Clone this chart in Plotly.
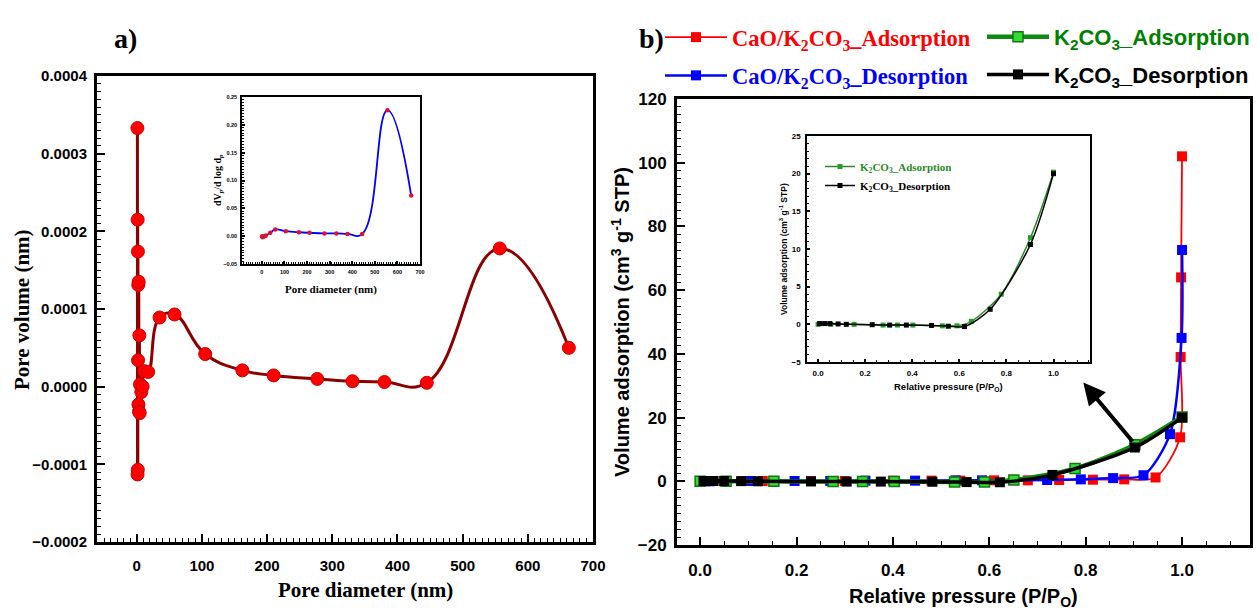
import plotly.graph_objects as go

W, H = 1258, 612

# ---------------- data: panel a (pore size distribution) ----------------
pore_d = [1.0, 1.2, 1.4, 1.6, 1.8, 2.0, 2.3, 2.6, 3.0, 3.5, 4.0, 4.5, 5.0, 7.0, 9.0,
          11.5, 17.5, 35.0, 58.0, 105.0, 162.0, 210.0, 277.0, 331.0, 380.0, 445.0, 557.0, 663.0]
pore_v = [3.33e-4, -1.13e-4, 2.15e-4, -1.07e-4, 1.74e-4, 0.34e-4, 1.31e-4, -0.23e-4, 1.35e-4,
          -0.32e-4, 0.66e-4, -0.34e-4, 0.03e-4, -0.07e-4, 0.0, 0.20e-4, 0.19e-4, 0.89e-4,
          0.93e-4, 0.42e-4, 0.21e-4, 0.145e-4, 0.10e-4, 0.07e-4, 0.06e-4, 0.05e-4, 1.78e-4, 0.50e-4]

# inset a: dVp/dlog dp
inset_d = [1, 3, 6, 12, 18, 37, 59, 106, 164, 211, 277, 330, 379, 444, 556, 661]
inset_v = [0.0, -0.002, -0.001, 0.0, 0.001, 0.006, 0.012, 0.009, 0.007, 0.006, 0.005,
           0.005, 0.004, 0.004, 0.226, 0.073]

# ---------------- data: panel b (isotherms) ----------------
cak_ads_p = [0.01, 0.05, 0.09, 0.13, 0.23, 0.30, 0.40, 0.48, 0.54, 0.61, 0.68, 0.745, 0.815,
             0.88, 0.945, 0.996, 0.997, 0.998, 1.0]
cak_ads_v = [0.0, 0.0, 0.1, 0.1, 0.1, 0.1, 0.2, 0.2, 0.2, 0.3, 0.3, 0.4, 0.5, 0.6, 1.2,
             13.8, 39.0, 64.0, 102.0]

cak_des_p = [1.0, 0.999, 0.975, 0.92, 0.857, 0.79, 0.72, 0.585, 0.53, 0.446, 0.343, 0.27,
             0.196, 0.106, 0.02]
cak_des_v = [72.6, 45.0, 14.8, 1.9, 1.0, 0.6, 0.4, 0.3, 0.3, 0.2, 0.2, 0.1, 0.1, 0.1, 0.0]

k_ads_p = [0.0, 0.054, 0.153, 0.276, 0.337, 0.403, 0.528, 0.59, 0.651, 0.778, 0.902, 1.0]
k_ads_v = [0.0, 0.0, 0.0, -0.1, -0.1, -0.1, -0.2, -0.2, 0.4, 4.0, 11.5, 20.2]

k_des_p = [1.0, 0.902, 0.731, 0.622, 0.553, 0.482, 0.375, 0.304, 0.23, 0.12, 0.085, 0.05,
           0.028, 0.007]
k_des_v = [20.0, 10.6, 2.0, -0.3, -0.25, -0.15, -0.1, -0.1, -0.05, 0.0, 0.05, 0.1, 0.1, 0.1]

SERIF = "Liberation Serif"
SANS = "Liberation Sans"
NARROW = "Liberation Sans Narrow, Arial Narrow, Liberation Sans"


def px(x):
    return x / W


def py(y):
    return 1 - y / H


fig = go.Figure()

# panel a
fig.add_trace(go.Scatter(x=pore_d, y=pore_v, mode="lines+markers", xaxis="x", yaxis="y",
                         line=dict(color="#8b0000", width=3, shape="spline", smoothing=1.3),
                         marker=dict(symbol="circle", size=13, color="#ff0000",
                                     line=dict(color="#cc0000", width=1)),
                         showlegend=False))
# inset a
fig.add_trace(go.Scatter(x=inset_d, y=inset_v, mode="lines+markers", xaxis="x3", yaxis="y3",
                         line=dict(color="#0000ff", width=1.8, shape="spline", smoothing=1.3),
                         marker=dict(symbol="circle", size=4.5, color="#dd1133"),
                         showlegend=False))

# panel b main traces
fig.add_trace(go.Scatter(x=cak_ads_p, y=cak_ads_v, mode="lines+markers", xaxis="x2", yaxis="y2",
                         name='<span style="font-family:Liberation Serif;color:#ff0000">CaO/K<sub>2</sub>CO<sub>3</sub>_Adsorption</span>',
                         line=dict(color="#ff0000", width=1.8, shape="spline", smoothing=0.8),
                         marker=dict(symbol="square", size=10, color="#ff0000"),
                         legend="legend", legendgroup="r", legendrank=1))
fig.add_trace(go.Scatter(x=cak_des_p, y=cak_des_v, mode="lines+markers", xaxis="x2", yaxis="y2",
                         name='<span style="font-family:Liberation Serif;color:#0000ff">CaO/K<sub>2</sub>CO<sub>3</sub>_Desorption</span>',
                         line=dict(color="#0000ff", width=2.5, shape="spline", smoothing=0.8),
                         marker=dict(symbol="square", size=10, color="#0000ff"),
                         legend="legend", legendgroup="b", legendrank=2))
fig.add_trace(go.Scatter(x=k_ads_p, y=k_ads_v, mode="lines+markers", xaxis="x2", yaxis="y2",
                         name='<span style="font-family:Liberation Sans;color:#008000">K<sub>2</sub>CO<sub>3</sub>_Adsorption</span>',
                         line=dict(color="#118811", width=4.5, shape="spline", smoothing=0.8),
                         marker=dict(symbol="square", size=10, color="#33dd33",
                                     line=dict(color="#117711", width=1.5)),
                         legend="legend3", legendgroup="g", legendrank=1))
fig.add_trace(go.Scatter(x=k_des_p, y=k_des_v, mode="lines+markers", xaxis="x2", yaxis="y2",
                         name='<span style="font-family:Liberation Sans;color:#000000">K<sub>2</sub>CO<sub>3</sub>_Desorption</span>',
                         line=dict(color="#000000", width=3.5, shape="spline", smoothing=0.8),
                         marker=dict(symbol="square", size=10, color="#000000"),
                         legend="legend3", legendgroup="k", legendrank=2))

# inset b traces
fig.add_trace(go.Scatter(x=k_ads_p, y=k_ads_v, mode="lines+markers", xaxis="x4", yaxis="y4",
                         name='<span style="color:#2a8a2a">K<sub>2</sub>CO<sub>3</sub>_Adsorption</span>',
                         line=dict(color="#2a8a2a", width=1.5, shape="spline", smoothing=0.8),
                         marker=dict(symbol="square", size=5, color="#2a9a2a"),
                         legend="legend2", legendrank=1))
fig.add_trace(go.Scatter(x=k_des_p, y=k_des_v, mode="lines+markers", xaxis="x4", yaxis="y4",
                         name='<span style="color:#000000">K<sub>2</sub>CO<sub>3</sub>_Desorption</span>',
                         line=dict(color="#000000", width=1.5, shape="spline", smoothing=0.8),
                         marker=dict(symbol="square", size=5, color="#000000"),
                         legend="legend2", legendrank=2))


def axis(domain, anchor, rng, dtick, mdtick, fmt, font, line_w=3, tl=8, mtl=4, standoff=None):
    d = dict(domain=domain, anchor=anchor, range=rng, dtick=dtick, tick0=0,
             tickformat=fmt, ticks="inside", ticklen=tl, tickwidth=2, tickcolor="black",
             minor=dict(dtick=mdtick, ticks="inside", ticklen=mtl, tickwidth=1.2, tickcolor="black"),
             showline=True, linewidth=line_w, linecolor="black", mirror=True,
             showgrid=False, zeroline=False, tickfont=font, automargin=False)
    if standoff is not None:
        d["ticklabelstandoff"] = standoff
    return d


font_a = dict(family=NARROW, size=15, color="black", weight="bold")
font_b = dict(family=SANS, size=17, color="black", weight="bold")
font_ia = dict(family=SANS, size=5.5, color="black", weight="bold")
font_ib = dict(family=SANS, size=8, color="black", weight="bold")

leg_common = dict(xref="paper", yref="paper", xanchor="left", yanchor="top", orientation="v",
                  itemwidth=62, bgcolor="rgba(0,0,0,0)", borderwidth=0,
                  traceorder="grouped", tracegroupgap=6)

layout = dict(
    width=W, height=H, margin=dict(l=0, r=0, t=0, b=0, autoexpand=False),
    paper_bgcolor="white", plot_bgcolor="white",
    xaxis=axis([px(97), px(593)], "y", [-61, 700], 100, 10, "d", font_a, standoff=8),
    yaxis=axis([py(542), py(76)], "x", [-0.0002, 0.0004], 0.0001, 0.00001, ".4f", font_a, standoff=4),
    xaxis2=axis([px(677), px(1250)], "y2", [-0.048, 1.141], 0.2, 0.05, ".1f", font_b, standoff=8),
    yaxis2=axis([py(545), py(99)], "x2", [-20, 120], 20, 2.5, "d", font_b, standoff=4),
    xaxis3=axis([px(242), px(420)], "y3", [-88, 700], 100, 10, "d", font_ia, line_w=1.5, tl=3, mtl=2, standoff=2),
    yaxis3=axis([py(264), py(97)], "x3", [-0.05, 0.25], 0.05, 0.005, ".2f", font_ia, line_w=1.5, tl=3, mtl=2, standoff=2),
    xaxis4=axis([px(807), px(1090)], "y4", [-0.047, 1.155], 0.2, 0.05, ".1f", font_ib, line_w=1.5, tl=3, mtl=2, standoff=3),
    yaxis4=axis([py(362), py(136)], "x4", [-5, 25], 5, 1, "d", font_ib, line_w=1.5, tl=3, mtl=2, standoff=3),
    legend=dict(x=px(660), y=py(16), font=dict(family=SERIF, size=22.5, weight="bold"), **leg_common),
    legend3=dict(x=px(982), y=py(16), font=dict(family=SANS, size=22, weight="bold"), **leg_common),
    legend2=dict(x=px(820), y=py(152), xref="paper", yref="paper", xanchor="left", yanchor="top",
                 orientation="v", font=dict(family=SERIF, size=11, weight="bold"),
                 bgcolor="rgba(0,0,0,0)", borderwidth=0),
    showlegend=True,
)

ann = []


def label(text, x, y, size, family, angle=0, weight="bold", color="black"):
    ann.append(dict(text=text, x=px(x), y=py(y), xref="paper", yref="paper",
                    showarrow=False, textangle=angle, xanchor="center", yanchor="middle",
                    font=dict(family=family, size=size, weight=weight, color=color)))


label("a)", 125, 38, 28, SERIF)
label("b)", 651, 38, 28, SERIF)
label("Pore volume (nm)", 22, 310, 21, SERIF, angle=-90)
label("Pore diameter (nm)", 365, 590, 21, SERIF)
label("Volume adsorption (cm<sup>3</sup> g<sup>-1</sup> STP)", 620, 322, 20, SANS, angle=-90)
label("Relative pressure (P/P<sub>O</sub>)", 963, 597, 20, SANS)
label("dV<sub><i>p</i></sub>/d log d<sub><i>p</i></sub>", 218, 180, 10, SERIF, angle=-90)
label("Pore diameter (nm)", 331, 289, 11, SERIF)
label("Volume adsorption (cm<sup>3</sup> g<sup>-1</sup> STP)", 783, 249, 8.5, SANS, angle=-90)
label("Relative pressure (P/P<sub>O</sub>)", 948, 387, 9.5, SANS)

# arrow pointing from the K2CO3 curve to the inset
ann.append(dict(x=0.795, y=31, xref="x2", yref="y2", ax=0.9, ay=12, axref="x2", ayref="y2",
                text="", showarrow=True, arrowhead=2, arrowsize=1.1, arrowwidth=4,
                arrowcolor="black", standoff=0, startstandoff=0))

layout["annotations"] = ann
fig.update_layout(**layout)
fig.write_html("out.html")
